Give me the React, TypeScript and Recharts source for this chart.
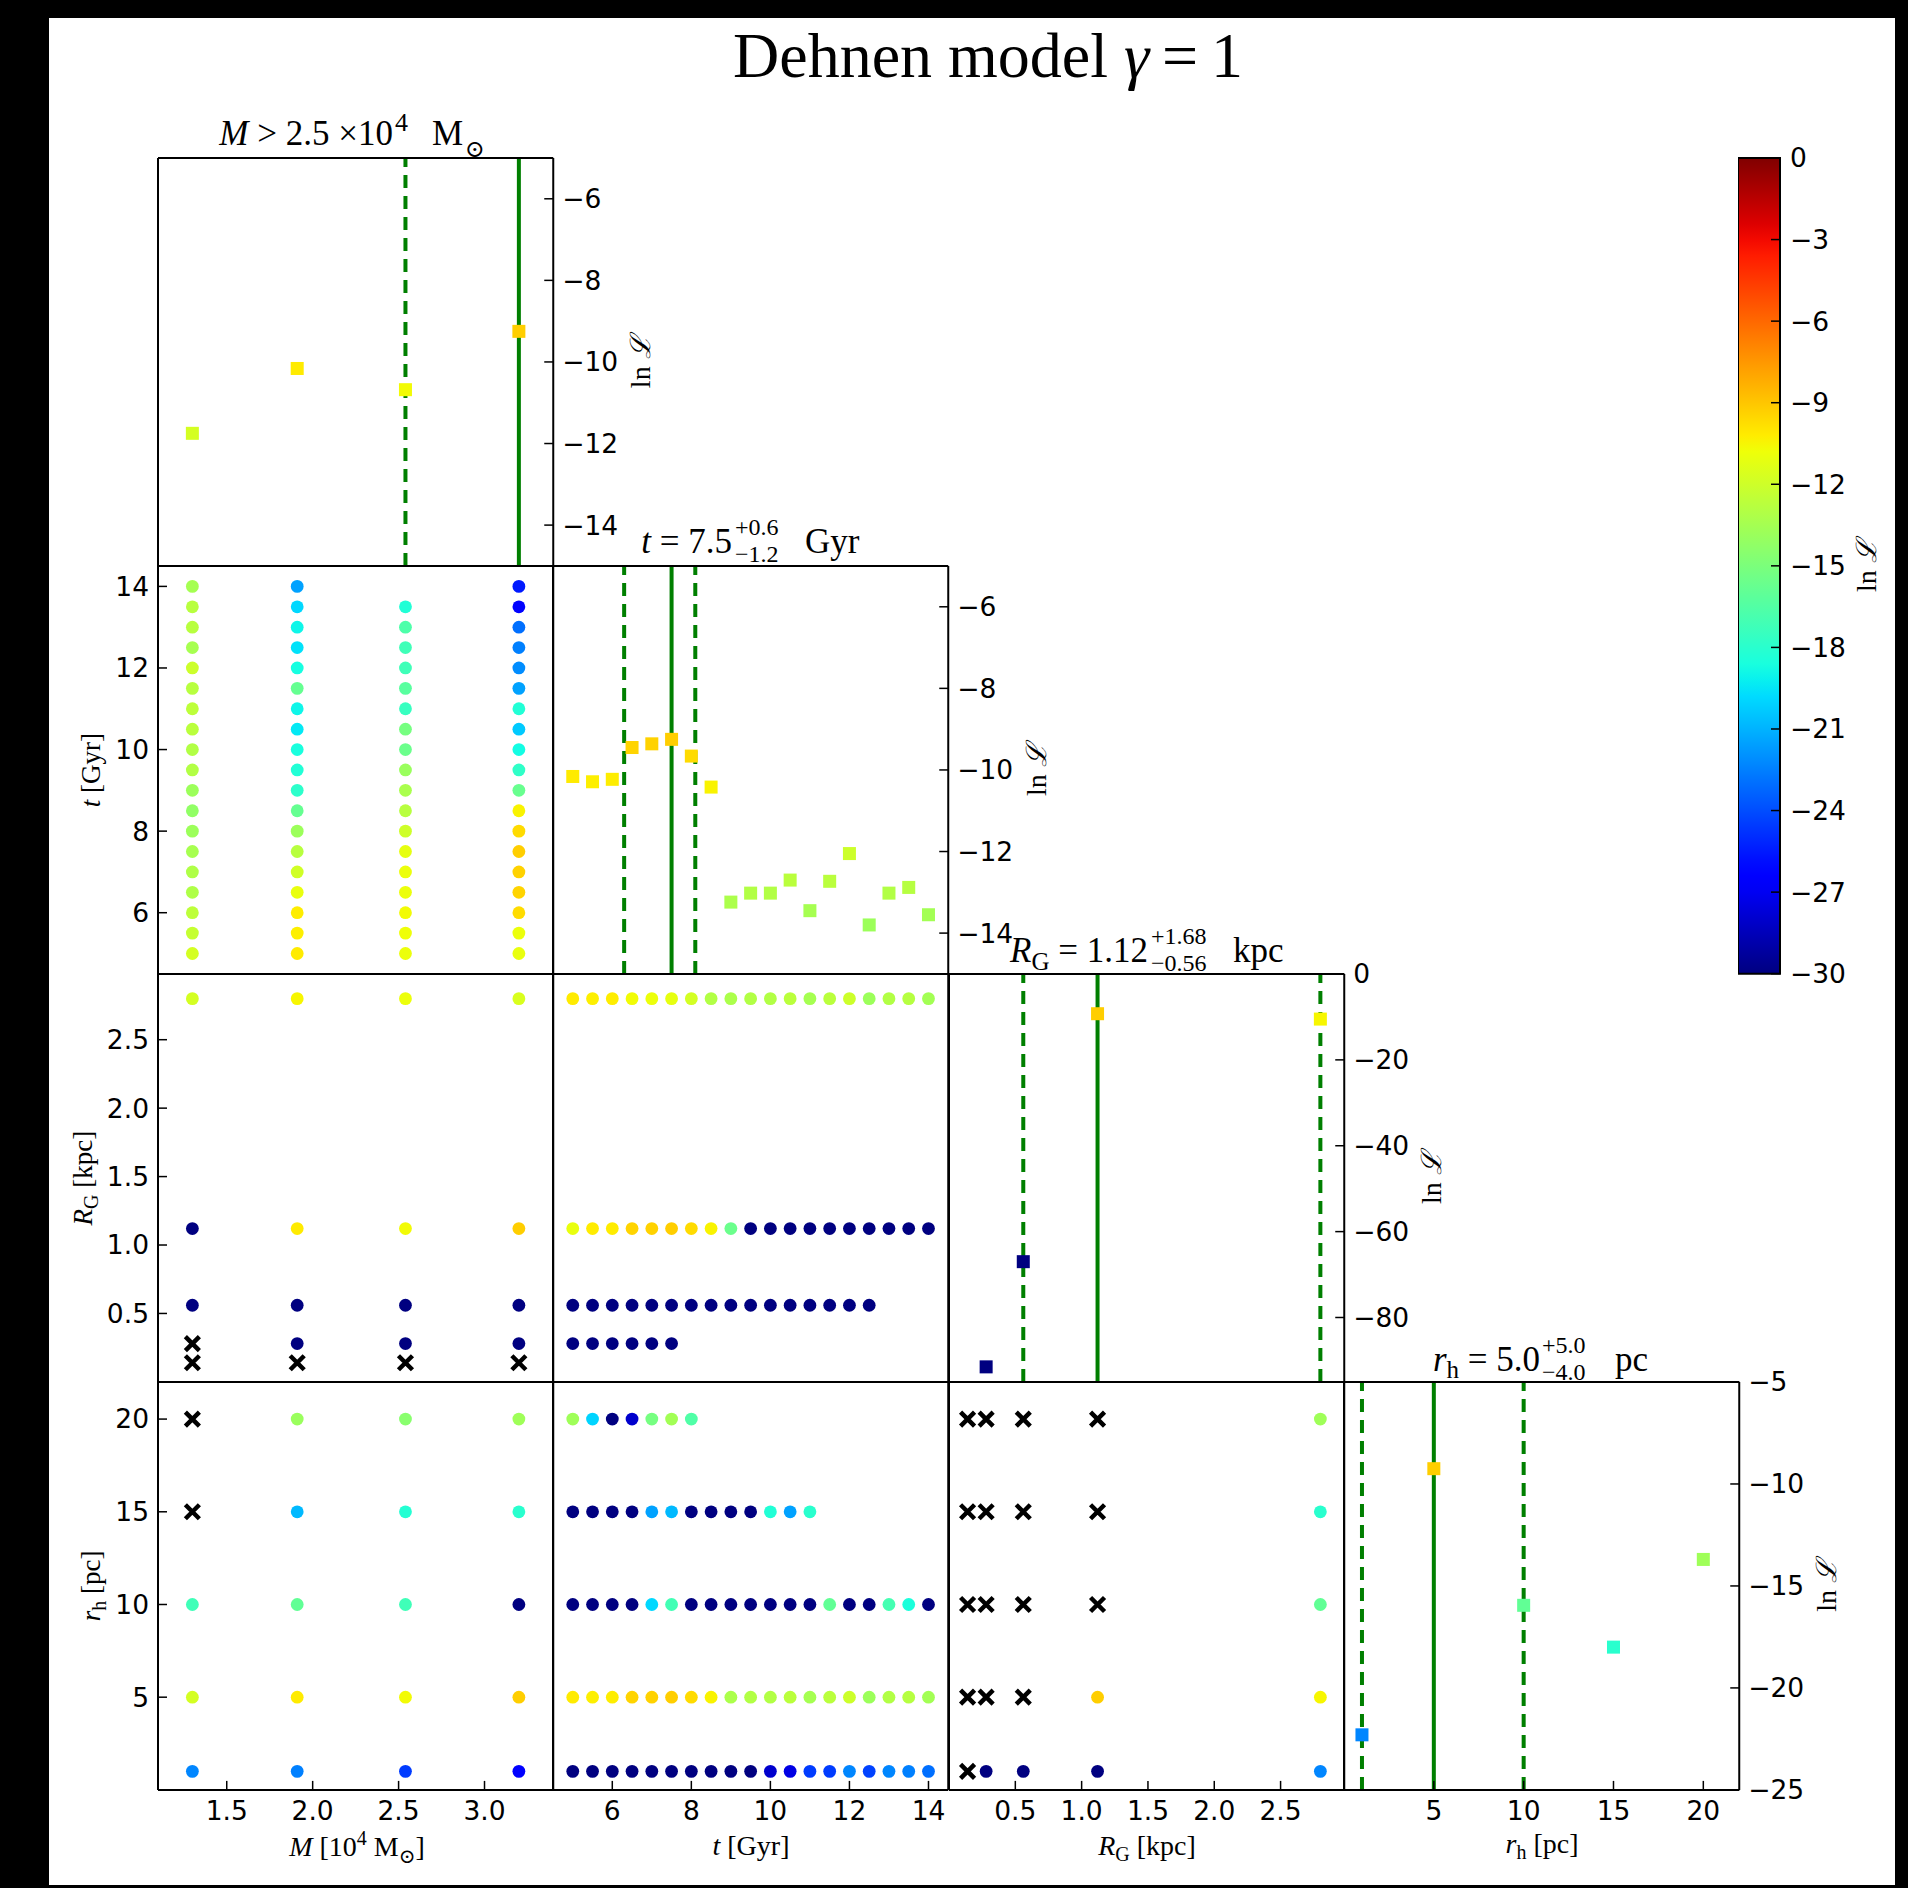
import React from "react";
import { ScatterChart, Scatter, XAxis, YAxis, ReferenceLine, ReferenceArea } from "recharts";

type V = number | null | "x";
const _ = null;
const X = "x"; // model that failed
const N = -40; // below the colour range (drawn navy)

// grid values of the four parameters
const M_VALS = [1.3, 1.91, 2.54, 3.2];
const T_VALS = [5, 5.5, 6, 6.5, 7, 7.5, 8, 8.5, 9, 9.5, 10, 10.5, 11, 11.5, 12, 12.5, 13, 13.5, 14];
const RG_VALS = [0.14, 0.28, 0.56, 1.12, 2.8];
const RH_VALS = [1, 5, 10, 15, 20];

const M_TICKS = [1.5, 2.0, 2.5, 3.0];
const T_TICKS = [6, 8, 10, 12, 14];
const RG_TICKS = [0.5, 1.0, 1.5, 2.0, 2.5];
const RH_TICKS = [5, 10, 15, 20];

// 1D ln L profiles
const M_LNL: (number | null)[] = [-11.75, -10.16, -10.68, -9.25];
const T_LNL: (number | null)[] = [-10.16, -10.29, -10.23, -9.45, -9.36, -9.25, -9.66, -10.42, -13.24, -13.02, -13.02, -12.7, -13.45, -12.73, -12.05, -13.8, -13.02, -12.88, -13.55];
const RG_LNL: (number | null)[] = [null, -91.5, -67.0, -9.25, -10.5];
const RH_LNL: (number | null)[] = [-22.3, -9.25, -15.95, -18.0, -13.7];

const LNL_TICKS_M = [-14, -12, -10, -8, -6];
const LNL_TICKS_T = [-14, -12, -10, -8, -6];
const LNL_TICKS_RG = [-80, -60, -40, -20, 0];
const LNL_TICKS_RH = [-25, -20, -15, -10, -5];

// best value and confidence bounds
const BEST = [3.2, 7.5, 1.12, 5.0];
const LOW = [2.54, 6.3, 0.56, 1.0];
const HIGH: (number | null)[] = [null, 8.1, 2.8, 10.0];

const CBAR_TICKS = [0, -3, -6, -9, -12, -15, -18, -21, -24, -27, -30];

// 2D tables: rows = y parameter values, columns = x parameter values
const T_BY_M: V[][] = [
  [-11.75, -10.16, -10.9, -11.0],
  [-12.3, -10.29, -10.8, -10.9],
  [-12.6, -10.23, -10.68, -9.7],
  [-13.1, -11.0, -10.9, -9.45],
  [-13.1, -11.9, -10.9, -9.36],
  [-13.4, -12.8, -11.1, -9.25],
  [-13.8, -13.8, -12.0, -9.66],
  [-14.2, -15.8, -12.8, -10.42],
  [-13.8, -17.9, -13.3, -15.7],
  [-13.0, -18.3, -13.9, -17.8],
  [-13.0, -18.6, -15.6, -18.8],
  [-12.7, -19.4, -15.2, -20.3],
  [-12.6, -19.0, -17.5, -18.3],
  [-12.8, -15.8, -16.3, -21.5],
  [-12.05, -18.7, -17.2, -22.1],
  [-13.4, -19.6, -17.2, -22.5],
  [-12.8, -19.0, -16.7, -23.0],
  [-12.8, -19.9, -18.3, -26.2],
  [-13.5, -21.5, _, -25.5],
];

const RG_BY_M: V[][] = [
  [X, X, X, X],
  [X, N, N, N],
  [N, N, N, N],
  [N, -10.16, -10.68, -9.25],
  [-11.75, -10.5, -10.9, -11.6],
];

const RG_BY_T: V[][] = [
  [_, _, _, _, _, _, _, _, _, _, _, _, _, _, _, _, _, _, _],
  [N, N, N, N, N, N, _, _, _, _, _, _, _, _, _, _, _, _, _],
  [N, N, N, N, N, N, N, N, N, N, N, N, N, N, N, N, _, _, _],
  [-11.0, -10.2, -10.2, -9.45, -9.36, -9.25, -9.66, -10.42, -15.6, N, N, N, N, N, N, N, N, N, N],
  [-10.16, -10.29, -10.23, -10.7, -10.9, -11.1, -11.8, -13.0, -13.24, -13.02, -13.02, -12.7, -13.45, -12.73, -12.05, -13.8, -13.02, -12.88, -13.55],
];

const RH_BY_M: V[][] = [
  [-22.3, -22.5, -24.5, -26.6],
  [-11.75, -10.16, -10.68, -9.25],
  [-17.2, -15.95, -17.2, N],
  [X, -20.8, -18.2, -18.0],
  [X, -13.9, -14.5, -13.7],
];

const RH_BY_T: V[][] = [
  [N, N, N, N, N, N, N, N, N, N, -28.0, -27.4, -24.5, -24.5, -22.3, -24.3, -22.3, -22.5, -23.0],
  [-10.16, -10.29, -10.23, -9.45, -9.36, -9.25, -9.66, -10.42, -13.24, -13.02, -13.02, -12.7, -13.45, -12.73, -12.05, -13.8, -13.02, -12.88, -13.55],
  [N, N, N, N, -19.9, -17.1, N, N, N, N, N, N, N, -15.95, N, N, -17.0, -18.5, N],
  [N, N, N, N, -21.5, -20.8, N, N, N, N, -18.3, -21.5, -18.0, _, _, _, _, _, _],
  [-13.7, -20.0, N, -28.0, -15.2, -13.6, -16.6, _, _, _, _, _, _, _, _, _, _, _, _],
];

const RH_BY_RG: V[][] = [
  [X, N, N, N, -22.3],
  [X, X, X, -9.25, -10.5],
  [X, X, X, X, -15.95],
  [X, X, X, X, -18.0],
  [X, X, X, X, -13.7],
];

const PARAMS = [
  { vals: M_VALS, domain: [1.1, 3.4], ticks: M_TICKS, dec: 1, lnl: M_LNL, lnlDomain: [-15, -5], lnlTicks: LNL_TICKS_M },
  { vals: T_VALS, domain: [4.5, 14.5], ticks: T_TICKS, dec: 0, lnl: T_LNL, lnlDomain: [-15, -5], lnlTicks: LNL_TICKS_T },
  { vals: RG_VALS, domain: [0, 2.98], ticks: RG_TICKS, dec: 1, lnl: RG_LNL, lnlDomain: [-95, 0], lnlTicks: LNL_TICKS_RG },
  { vals: RH_VALS, domain: [0, 22], ticks: RH_TICKS, dec: 0, lnl: RH_LNL, lnlDomain: [-25, -5], lnlTicks: LNL_TICKS_RH },
];

const PAIRS = [
  { col: 0, row: 1, rows: T_BY_M },
  { col: 0, row: 2, rows: RG_BY_M },
  { col: 1, row: 2, rows: RG_BY_T },
  { col: 0, row: 3, rows: RH_BY_M },
  { col: 1, row: 3, rows: RH_BY_T },
  { col: 2, row: 3, rows: RH_BY_RG },
];

// jet colour map, ln L from -30 to 0
const VMIN = -30;
const VMAX = 0;
const JET: Record<string, number[][]> = {
  r: [[0, 0], [0.35, 0], [0.66, 1], [0.89, 1], [1, 0.5]],
  g: [[0, 0], [0.125, 0], [0.375, 1], [0.64, 1], [0.91, 0], [1, 0]],
  b: [[0, 0.5], [0.11, 1], [0.34, 1], [0.65, 0], [1, 0]],
};
function seg(pts: number[][], t: number) {
  for (let i = 1; i < pts.length; i++) {
    if (t <= pts[i][0]) {
      const [x0, y0] = pts[i - 1];
      const [x1, y1] = pts[i];
      return y0 + ((y1 - y0) * (t - x0)) / (x1 - x0);
    }
  }
  return pts[pts.length - 1][1];
}
function jet(v: number) {
  const t = Math.min(1, Math.max(0, (v - VMIN) / (VMAX - VMIN)));
  const c = (k: string) => Math.round(255 * seg(JET[k], t));
  return `rgb(${c("r")},${c("g")},${c("b")})`;
}

// layout (page pixels)
const X0 = 158;
const CW = 395.25;
const Y0 = 158.3;
const CH = 407.9;
const PAD_L = 110;
const PAD_R = 110;
const PAD_T = 20;
const PAD_B = 50;
const TICK = 9;
const GREEN = "#007f00";

const TICK_FONT = { fontSize: 26.5, fill: "#000", fontFamily: "'DejaVu Sans', sans-serif" };
const AXIS_LINE = { stroke: "#000", strokeWidth: 2 };
const TICK_LINE = { stroke: "#000", strokeWidth: 1.5 };
const SERIF = "'Liberation Serif', 'DejaVu Serif', serif";

const fmt = (dec: number) => (v: number) => v.toFixed(dec).replace("-", "\u2212");

function grid(xs: number[], ys: number[], rows: V[][]) {
  const dots: { x: number; y: number; v: number }[] = [];
  const fails: { x: number; y: number }[] = [];
  rows.forEach((row, j) =>
    row.forEach((v, i) => {
      if (v === null) return;
      if (v === X) fails.push({ x: xs[i], y: ys[j] });
      else dots.push({ x: xs[i], y: ys[j], v: v as number });
    })
  );
  return { dots, fails };
}

const dotShape = (p: any) => <circle cx={p.cx} cy={p.cy} r={6.4} fill={jet(p.payload.v)} />;
const squareShape = (p: any) => (
  <rect x={p.cx - 6.5} y={p.cy - 6.5} width={13} height={13} fill={jet(p.payload.v)} />
);
const crossShape = (p: any) => (
  <path
    d={`M${p.cx - 7},${p.cy - 7}L${p.cx + 7},${p.cy + 7}M${p.cx - 7},${p.cy + 7}L${p.cx + 7},${p.cy - 7}`}
    stroke="#000"
    strokeWidth={4.5}
  />
);

function Panel({ col, row }: { col: number; row: number }) {
  const px = PARAMS[col];
  const py = PARAMS[row];
  const diag = col === row;
  const pair = PAIRS.find((p) => p.col === col && p.row === row);
  const { dots, fails } = pair ? grid(px.vals, py.vals, pair.rows) : { dots: [], fails: [] };
  const prof = diag
    ? px.vals
        .map((x, k) => ({ x, y: px.lnl[k] as number, v: px.lnl[k] as number }))
        .filter((p) => p.y !== null && p.y !== undefined)
    : [];
  const lDom = diag ? [0, 1] : py.domain;
  const lTicks = diag ? [0.2, 0.4, 0.6, 0.8] : py.ticks;
  const rDom = diag ? px.lnlDomain : py.domain;
  const rTicks = diag ? px.lnlTicks : py.ticks;
  const left = X0 + col * CW - PAD_L;
  const top = Y0 + row * CH - PAD_T;

  return (
    <div style={{ position: "absolute", left, top }}>
      <ScatterChart
        width={PAD_L + CW + PAD_R}
        height={PAD_T + CH + PAD_B}
        margin={{ top: 0, right: 0, bottom: 0, left: 0 }}
      >
        <XAxis
          xAxisId="b"
          orientation="bottom"
          type="number"
          dataKey="x"
          domain={px.domain}
          allowDataOverflow
          ticks={px.ticks}
          interval={0}
          height={PAD_B}
          tickSize={-TICK}
          tickMargin={TICK + 11}
          tick={row === 3 ? TICK_FONT : false}
          tickFormatter={fmt(px.dec)}
          axisLine={AXIS_LINE}
          tickLine={TICK_LINE}
        />
        <XAxis
          xAxisId="t"
          orientation="top"
          type="number"
          domain={px.domain}
          allowDataOverflow
          ticks={px.ticks}
          interval={0}
          height={PAD_T}
          tickSize={-TICK}
          tick={false}
          axisLine={AXIS_LINE}
          tickLine={TICK_LINE}
        />
        <YAxis
          yAxisId="l"
          orientation="left"
          type="number"
          dataKey="y"
          domain={lDom}
          allowDataOverflow
          ticks={lTicks}
          interval={0}
          width={PAD_L}
          tickSize={-TICK}
          tickMargin={TICK + 9}
          tick={col === 0 && !diag ? TICK_FONT : false}
          tickFormatter={fmt(py.dec)}
          axisLine={AXIS_LINE}
          tickLine={TICK_LINE}
        />
        <YAxis
          yAxisId="r"
          orientation="right"
          type="number"
          dataKey="y"
          domain={rDom}
          allowDataOverflow
          ticks={rTicks}
          interval={0}
          width={PAD_R}
          tickSize={-TICK}
          tickMargin={TICK + 9}
          tick={diag ? TICK_FONT : false}
          tickFormatter={fmt(0)}
          axisLine={AXIS_LINE}
          tickLine={TICK_LINE}
        />
        {diag && (
          <ReferenceLine x={BEST[col]} xAxisId="b" yAxisId="r" stroke={GREEN} strokeWidth={4} />
        )}
        {diag && (
          <ReferenceLine x={LOW[col]} xAxisId="b" yAxisId="r" stroke={GREEN} strokeWidth={4} strokeDasharray="13 8" />
        )}
        {diag && HIGH[col] !== null && (
          <ReferenceLine x={HIGH[col] as number} xAxisId="b" yAxisId="r" stroke={GREEN} strokeWidth={4} strokeDasharray="13 8" />
        )}
        {diag && (
          <Scatter data={prof} xAxisId="b" yAxisId="r" shape={squareShape} isAnimationActive={false} />
        )}
        {!diag && <Scatter data={dots} xAxisId="b" yAxisId="l" shape={dotShape} isAnimationActive={false} />}
        {!diag && <Scatter data={fails} xAxisId="b" yAxisId="l" shape={crossShape} isAnimationActive={false} />}
      </ScatterChart>
    </div>
  );
}

const CB_X = 1738;
const CB_Y = 158.3;
const CB_W = 42;
const CB_H = 815.7;

function ColorBar() {
  return (
    <div style={{ position: "absolute", left: CB_X, top: CB_Y - 20 }}>
      <ScatterChart width={CB_W + 90} height={CB_H + 40} margin={{ top: 20, right: 0, bottom: 20, left: 0 }}>
        <XAxis xAxisId="c" type="number" dataKey="x" domain={[0, 1]} allowDataOverflow hide />
        <YAxis
          yAxisId="c"
          orientation="right"
          type="number"
          dataKey="y"
          domain={[VMIN, VMAX]}
          allowDataOverflow
          ticks={CBAR_TICKS}
          interval={0}
          width={90}
          tickSize={-TICK}
          tickMargin={TICK + 10}
          tick={TICK_FONT}
          tickFormatter={fmt(0)}
          axisLine={AXIS_LINE}
          tickLine={TICK_LINE}
        />
        <ReferenceArea
          xAxisId="c"
          yAxisId="c"
          x1={0}
          x2={1}
          y1={VMIN}
          y2={VMAX}
          fill="url(#jetGrad)"
          fillOpacity={1}
          stroke="#000"
          strokeWidth={2}
        />
      </ScatterChart>
    </div>
  );
}

function Labels() {
  const tPlus = "+" + ((HIGH[1] as number) - BEST[1]).toFixed(1);
  const tMinus = "\u2212" + (BEST[1] - LOW[1]).toFixed(1);
  const gPlus = "+" + ((HIGH[2] as number) - BEST[2]).toFixed(2);
  const gMinus = "\u2212" + (BEST[2] - LOW[2]).toFixed(2);
  const hPlus = "+" + ((HIGH[3] as number) - BEST[3]).toFixed(1);
  const hMinus = "\u2212" + (BEST[3] - LOW[3]).toFixed(1);
  const lnL = (x: number, cy: number, key: string) => (
    <text key={key} x={0} y={0} transform={`translate(${x},${cy}) rotate(-90)`} fontSize={28} textAnchor="middle">
      ln <tspan fontStyle="italic">ℒ</tspan>
    </text>
  );
  const rot = (x: number, cy: number, content: React.ReactNode) => (
    <text x={0} y={0} transform={`translate(${x},${cy}) rotate(-90)`} fontSize={27} textAnchor="middle">
      {content}
    </text>
  );
  return (
    <svg
      width={1908}
      height={1888}
      style={{ position: "absolute", left: 0, top: 0, pointerEvents: "none" }}
      fontFamily={SERIF}
      fill="#000"
    >
      <text x={988} y={77} fontSize={64} textAnchor="middle">
        Dehnen model  <tspan fontStyle="italic">γ</tspan>{"\u2009=\u20091"}
      </text>

      {/* panel titles */}
      <text x={393} y={145} fontSize={35} textAnchor="end">
        <tspan fontStyle="italic">M</tspan>
        {" > " + LOW[0].toFixed(1) + " ×10"}
      </text>
      <text x={395} y={131} fontSize={26}>4</text>
      <text x={432} y={145} fontSize={35}>M</text>
      <text x={465} y={157} fontSize={24}>⊙</text>

      <text x={732} y={553} fontSize={35} textAnchor="end">
        <tspan fontStyle="italic">t</tspan>
        {" = " + BEST[1].toFixed(1)}
      </text>
      <text x={735} y={535} fontSize={24}>{tPlus}</text>
      <text x={735} y={562} fontSize={24}>{tMinus}</text>
      <text x={805} y={553} fontSize={35}>Gyr</text>

      <text x={1148} y={962} fontSize={35} textAnchor="end">
        <tspan fontStyle="italic">R</tspan>
        <tspan fontSize={25} dy={8}>G</tspan>
        <tspan dy={-8}>{" = " + BEST[2].toFixed(2)}</tspan>
      </text>
      <text x={1151} y={944} fontSize={24}>{gPlus}</text>
      <text x={1151} y={971} fontSize={24}>{gMinus}</text>
      <text x={1233} y={962} fontSize={35}>kpc</text>

      <text x={1540} y={1371} fontSize={35} textAnchor="end">
        <tspan fontStyle="italic">r</tspan>
        <tspan fontSize={25} dy={7}>h</tspan>
        <tspan dy={-7}>{" = " + BEST[3].toFixed(1)}</tspan>
      </text>
      <text x={1542} y={1353} fontSize={24}>{hPlus}</text>
      <text x={1542} y={1380} fontSize={24}>{hMinus}</text>
      <text x={1615} y={1371} fontSize={35}>pc</text>

      {/* bottom axis labels */}
      <text x={357} y={1856} fontSize={28} textAnchor="middle">
        <tspan fontStyle="italic">M</tspan>
        {" [10"}
        <tspan fontSize={20} dy={-11}>4</tspan>
        <tspan dy={11}>{" M"}</tspan>
        <tspan fontSize={20} dy={7}>⊙</tspan>
        <tspan dy={-7}>]</tspan>
      </text>
      <text x={751} y={1855} fontSize={28} textAnchor="middle">
        <tspan fontStyle="italic">t</tspan> [Gyr]
      </text>
      <text x={1147} y={1855} fontSize={28} textAnchor="middle">
        <tspan fontStyle="italic">R</tspan>
        <tspan fontSize={20} dy={6}>G</tspan>
        <tspan dy={-6}> [kpc]</tspan>
      </text>
      <text x={1542} y={1853} fontSize={28} textAnchor="middle">
        <tspan fontStyle="italic">r</tspan>
        <tspan fontSize={20} dy={6}>h</tspan>
        <tspan dy={-6}> [pc]</tspan>
      </text>

      {/* left axis labels */}
      {rot(100, Y0 + 1.5 * CH, <><tspan fontStyle="italic">t</tspan> [Gyr]</>)}
      {rot(92, Y0 + 2.5 * CH, <><tspan fontStyle="italic">R</tspan><tspan fontSize={20} dy={6}>G</tspan><tspan dy={-6}> [kpc]</tspan></>)}
      {rot(100, Y0 + 3.5 * CH, <><tspan fontStyle="italic">r</tspan><tspan fontSize={20} dy={6}>h</tspan><tspan dy={-6}> [pc]</tspan></>)}

      {/* ln L labels */}
      {[0, 1, 2, 3].map((k) => lnL(X0 + (k + 1) * CW + 97, Y0 + (k + 0.5) * CH, "l" + k))}
      {lnL(CB_X + CB_W + 96, CB_Y + CB_H / 2, "cb")}
    </svg>
  );
}

export default function App() {
  const cells: React.ReactNode[] = [];
  for (let r = 0; r < 4; r++) for (let c = 0; c <= r; c++) cells.push(<Panel key={`${c}-${r}`} col={c} row={r} />);
  const stops = Array.from({ length: 51 }, (_, i) => i / 50);
  return (
    <div
      style={{ position: "absolute", left: 0, top: 0, width: 1908, height: 1888, background: "#000", overflow: "hidden" }}
    >
      <div style={{ position: "absolute", left: 49, top: 18, width: 1846, height: 1867, background: "#fff" }} />
      <svg width={0} height={0} style={{ position: "absolute" }}>
        <defs>
          <linearGradient id="jetGrad" x1="0" y1="0" x2="0" y2="1">
            {stops.map((o) => (
              <stop key={o} offset={o} stopColor={jet(VMAX - (VMAX - VMIN) * o)} />
            ))}
          </linearGradient>
        </defs>
      </svg>
      {cells}
      <ColorBar />
      <Labels />
    </div>
  );
}
